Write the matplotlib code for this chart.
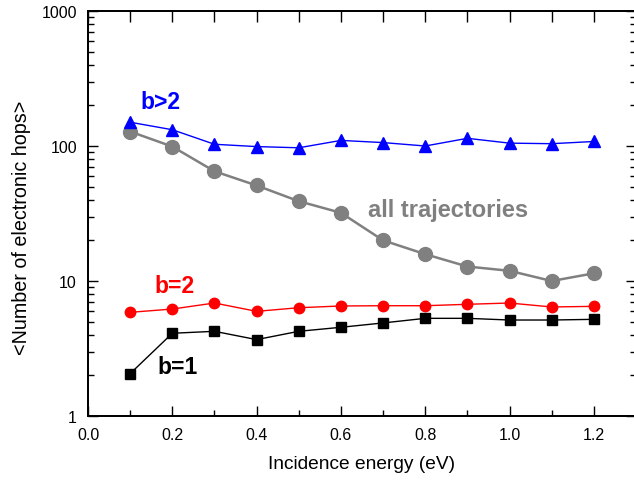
import matplotlib
matplotlib.use("Agg")
import matplotlib.pyplot as plt
from matplotlib.ticker import LogLocator, NullFormatter, MultipleLocator

plt.rcParams['font.family'] = ['Liberation Sans', 'DejaVu Sans']

energy = [0.1, 0.2, 0.3, 0.4, 0.5, 0.6, 0.7, 0.8, 0.9, 1.0, 1.1, 1.2]
all_traj = [128, 99, 65, 51, 39, 32, 20, 15.8, 12.8, 11.9, 10.0, 11.4]
b_gt2 = [150, 132, 103, 99, 97, 110, 106, 100, 114, 105, 104, 108]
b_eq2 = [5.86, 6.2, 6.87, 5.96, 6.34, 6.53, 6.56, 6.56, 6.72, 6.87, 6.42, 6.49]
b_eq1 = [2.06, 4.10, 4.24, 3.68, 4.24, 4.54, 4.89, 5.29, 5.29, 5.14, 5.14, 5.2]

xticks = [0.0, 0.2, 0.4, 0.6, 0.8, 1.0, 1.2]
xticklabels = ["0.0", "0.2", "0.4", "0.6", "0.8", "1.0", "1.2"]
yticks = [1, 10, 100, 1000]
yticklabels = ["1", "10", "100", "1000"]

fig = plt.figure(figsize=(6.34, 4.85), dpi=100)
ax = fig.add_axes([88/634, 68/485, (636-88)/634, 405/485])

ax.plot(energy, b_gt2, color='#0000ff', lw=1.0, marker='^', ms=9, zorder=3)
ax.plot(energy, all_traj, color='#808080', lw=1.8, marker='o', ms=10, zorder=2)
ax.plot(energy, b_eq2, color='#ff0000', lw=1.0, marker='o', ms=7.5, zorder=3)
ax.plot(energy, b_eq1, color='black', lw=1.0, marker='s', ms=6.5, zorder=3)

ax.set_yscale('log')
ax.set_ylim(1, 1000)
ax.set_xlim(0, 1.3)

ax.set_xticks(xticks)
ax.set_xticklabels(xticklabels)
ax.xaxis.set_minor_locator(MultipleLocator(0.1))
ax.set_yticks(yticks)
ax.set_yticklabels(yticklabels)
ax.yaxis.set_minor_locator(LogLocator(base=10, subs=range(2, 10)))
ax.yaxis.set_minor_formatter(NullFormatter())

ax.tick_params(which='both', direction='in', left=True, right=True, bottom=True, top=False,
               labelsize=11.5, width=1.0)
ax.tick_params(which='major', length=7.5)
ax.tick_params(which='minor', length=4)
ax.tick_params(axis='x', which='major', pad=8)
ax.tick_params(axis='y', which='major', pad=8)

ax2 = ax.twiny()
ax2.set_xlim(ax.get_xlim())
ax2.xaxis.set_major_locator(MultipleLocator(0.1))
ax2.tick_params(axis='x', direction='in', length=8, width=1.0, labeltop=False, top=True)

for a in (ax, ax2):
    for s in a.spines.values():
        s.set_linewidth(1.3)

ax.set_xlabel("Incidence energy (eV)", fontsize=13.8, labelpad=9)
ax.set_ylabel("<Number of electronic hops>", fontsize=14.2)
ax.yaxis.set_label_coords(-0.104, 0.467)

ax.text(0.125, 215, "b>2", color='#0000ff', fontsize=16.5, fontweight='bold', va='center', ha='left')
ax.text(0.665, 34, "all trajectories", color='#808080', fontsize=17, fontweight='bold', va='center', ha='left')
ax.text(0.158, 9.2, "b=2", color='#ff0000', fontsize=16.5, fontweight='bold', va='center', ha='left')
ax.text(0.165, 2.33, "b=1", color='black', fontsize=16.5, fontweight='bold', va='center', ha='left')

fig.savefig("out.png", dpi=100)
